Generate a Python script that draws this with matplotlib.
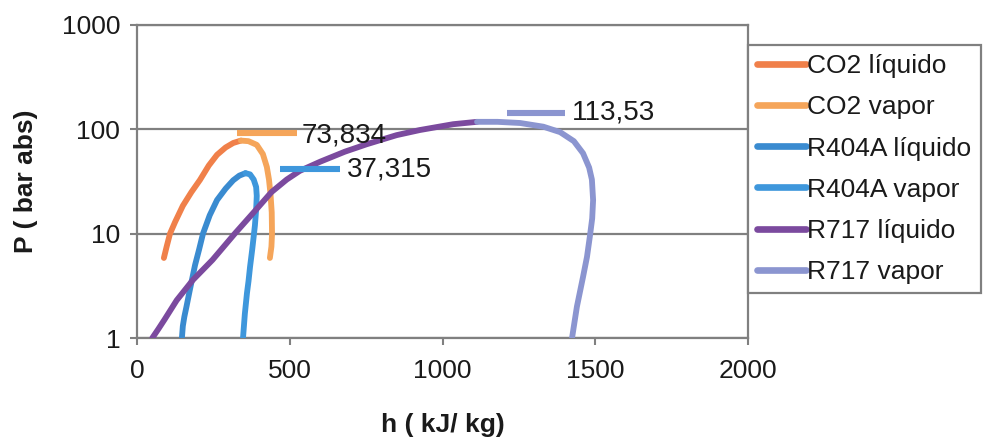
import matplotlib
matplotlib.use("Agg")
import matplotlib.pyplot as plt
from matplotlib.ticker import FixedLocator, FixedFormatter, NullLocator

plt.rcParams['font.family'] = ['Liberation Sans', 'DejaVu Sans']

# ---- data (h in kJ/kg, P in bar abs) ----
co2_liq_h = [88, 97, 108, 125, 150, 178, 206, 235, 262, 290, 315, 340]
co2_liq_p = [5.85, 7.5, 10, 13, 18.5, 25, 32.7, 45, 57, 67, 74, 78]
co2_vap_h = [340, 365, 392, 412, 425, 432, 437, 441, 442, 440, 435]
co2_vap_p = [78, 77, 71, 58, 43.6, 33, 24, 16, 10, 7.5, 5.85]

r404_liq_h = [147, 150, 155, 162, 172, 190, 203, 216, 238, 262, 290, 315, 335, 355]
r404_liq_p = [1, 1.3, 1.6, 2, 2.8, 5, 7, 10, 15, 21, 27, 32.5, 36, 38]
r404_vap_h = [355, 370, 382, 390, 392, 390, 386, 383, 377, 370, 365, 360, 353, 347]
r404_vap_p = [38, 37, 33, 28, 23, 17, 12, 10, 7, 4.8, 3.5, 2.7, 1.7, 1]

r717_liq_h = [50, 70, 90, 130, 183, 247, 320, 386, 440, 490, 533, 600, 680, 752,
              850, 926, 1035, 1113]
r717_liq_p = [1, 1.22, 1.5, 2.3, 3.6, 5.6, 10, 16.5, 25, 33, 40, 49, 61, 72,
              88, 98.5, 112, 118]
r717_vap_h = [1113, 1180, 1254, 1330, 1385, 1430, 1460, 1480, 1489, 1493, 1490, 1483,
              1473, 1460, 1440, 1424]
r717_vap_p = [118, 118, 115, 106, 94, 77, 59, 43, 33, 21, 14, 9.7, 6, 3.85, 2, 1]

series_names = ["CO2 líquido", "CO2 vapor", "R404A líquido", "R404A vapor",
                "R717 líquido", "R717 vapor"]
series_colors = ["#f0804a", "#f5a55a", "#3a8bd0", "#3e97dc", "#7b4a9e", "#8b95d0"]

# critical-point labels: dash start/end h, P, label text, label position
crit_h0 = [327, 468, 1211]
crit_h1 = [524, 664, 1401]
crit_p = [92, 41.7, 144]
crit_text = ["73,834", "37,315", "113,53"]
crit_text_h = [540, 687, 1424]
crit_text_p = [88, 40.8, 144]
crit_colors = ["#f5a55a", "#3e97dc", "#8b95d0"]

x_ticks = [0, 500, 1000, 1500, 2000]
y_ticks = [1, 10, 100, 1000]
y_tick_labels = ["1", "10", "100", "1000"]

# ---- figure ----
W, H = 989, 442
fig = plt.figure(figsize=(W / 100, H / 100), dpi=100)
ax = fig.add_axes([137 / W, 1 - 338 / H, (748 - 137) / W, (338 - 25) / H])

data = [(co2_liq_h, co2_liq_p), (co2_vap_h, co2_vap_p),
        (r404_liq_h, r404_liq_p), (r404_vap_h, r404_vap_p),
        (r717_liq_h, r717_liq_p), (r717_vap_h, r717_vap_p)]
for (hh, pp), name, col in zip(data, series_names, series_colors):
    ax.plot(hh, pp, color=col, lw=4.2, label=name, solid_capstyle='round',
            solid_joinstyle='round', zorder=3)

for h0, h1, p, t, th, tp, c in zip(crit_h0, crit_h1, crit_p, crit_text,
                                   crit_text_h, crit_text_p, crit_colors):
    ax.plot([h0, h1], [p, p], color=c, lw=4.4, solid_capstyle='butt', zorder=4)
    ax.text(th, tp, t, fontsize=20, va='center', ha='left', color='#1a1a1a', zorder=5)

ax.set_yscale('log')
ax.set_xlim(0, 2000)
ax.set_ylim(1, 1000)
ax.xaxis.set_major_locator(FixedLocator(x_ticks))
ax.yaxis.set_major_locator(FixedLocator(y_ticks))
ax.yaxis.set_major_formatter(FixedFormatter(y_tick_labels))
ax.yaxis.set_minor_locator(NullLocator())
ax.xaxis.set_minor_locator(NullLocator())

ax.grid(axis='y', color='#808080', lw=1.6, zorder=1)
for s in ax.spines.values():
    s.set_color('#808080')
    s.set_linewidth(1.6)
ax.tick_params(axis='both', which='major', labelsize=19, color='#808080',
               length=5, width=1.5, direction='out', labelcolor='#1a1a1a')
ax.tick_params(axis='x', pad=10)
ax.tick_params(axis='y', pad=7)

ax.set_xlabel("h ( kJ/ kg)", fontsize=19, fontweight='bold', color='#1a1a1a')
ax.set_ylabel("P ( bar abs)", fontsize=19, fontweight='bold', color='#1a1a1a')
ax.xaxis.set_label_coords(0.5, (338 - 425) / (338 - 25))
ax.xaxis.label.set_va('center')
ax.yaxis.set_label_coords((26 - 137) / (748 - 137), 0.5)
ax.yaxis.label.set_va('center')

leg = ax.legend(loc='upper left', bbox_to_anchor=(748 / W, 1 - 45 / H),
                bbox_transform=fig.transFigure, fontsize=19, frameon=True,
                fancybox=False, edgecolor='#808080', handlelength=1.85,
                handletextpad=0.05, labelspacing=0.65, borderpad=0.35,
                borderaxespad=0, framealpha=1)
leg.get_frame().set_linewidth(1.6)
for line in leg.get_lines():
    line.set_linewidth(4.8)
for t in leg.get_texts():
    t.set_color('#1a1a1a')

fig.savefig("out.png", dpi=100, facecolor='white')
